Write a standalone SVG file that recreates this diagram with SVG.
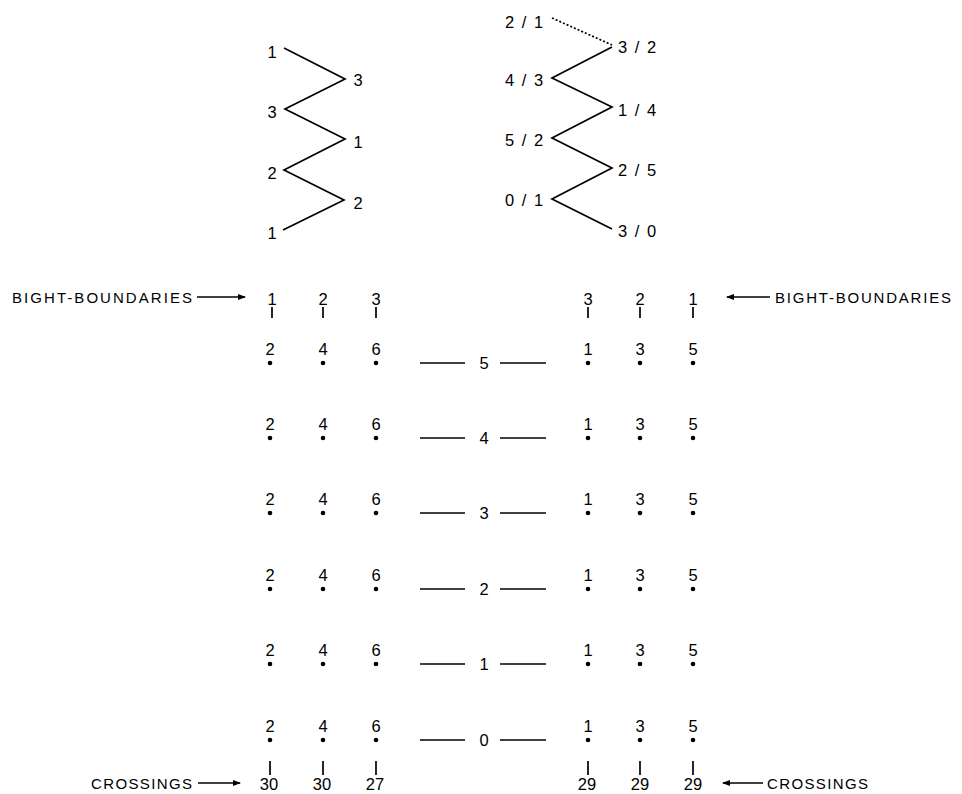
<svg xmlns="http://www.w3.org/2000/svg" width="962" height="794" viewBox="0 0 962 794">
<style>
text{font-family:"Liberation Sans","DejaVu Sans",sans-serif;font-size:16.5px;fill:#000}
.c{text-anchor:middle}
.r{text-anchor:end}
.fr{letter-spacing:1.5px}
.lbl{font-size:15px;letter-spacing:1px}
.ln{stroke:#000;stroke-width:1.7;fill:none}
.dot{fill:#000}
</style>
<defs>
<marker id="ah" markerWidth="8" markerHeight="6" refX="7" refY="3" orient="auto" markerUnits="userSpaceOnUse">
<path d="M0,0 L8,3 L0,6 Z" fill="#000"/>
</marker>
</defs>
<rect width="962" height="794" fill="#fff"/>

<g id="zigzag-left">
<polyline class="ln" points="284,48 345,79 285,109 345,139 284,170 344,200 283,230"/>
<text class="c" x="272" y="58">1</text>
<text class="c" x="272" y="118">3</text>
<text class="c" x="272" y="179">2</text>
<text class="c" x="272" y="239">1</text>
<text class="c" x="358" y="86">3</text>
<text class="c" x="358" y="148">1</text>
<text class="c" x="358" y="209">2</text>
</g>

<g id="zigzag-right">
<line class="ln" x1="552" y1="18" x2="612" y2="45" stroke-dasharray="2,2"/>
<polyline class="ln" points="612,47 552,78 612,107 552,138 612,168 552,199 612,229"/>
<text class="fr" x="505" y="28">2 / 1</text>
<text class="fr" x="505" y="86">4 / 3</text>
<text class="fr" x="505" y="146">5 / 2</text>
<text class="fr" x="505" y="206">0 / 1</text>
<text class="fr" x="618" y="53">3 / 2</text>
<text class="fr" x="618" y="116">1 / 4</text>
<text class="fr" x="618" y="176">2 / 5</text>
<text class="fr" x="618" y="237">3 / 0</text>
</g>

<g id="bight-left">
<text class="lbl" x="12" y="303" textLength="181" lengthAdjust="spacing">BIGHT-BOUNDARIES</text>
<line class="ln" x1="197" y1="297" x2="245" y2="297" marker-end="url(#ah)"/>
<text class="c" x="272" y="305">1</text>
<text class="c" x="323" y="305">2</text>
<text class="c" x="376" y="305">3</text>
<line class="ln" x1="272" y1="307" x2="272" y2="318"/>
<line class="ln" x1="323" y1="307" x2="323" y2="318"/>
<line class="ln" x1="376" y1="307" x2="376" y2="318"/>
</g>

<g id="bight-right">
<text class="c" x="588" y="305">3</text>
<text class="c" x="640" y="305">2</text>
<text class="c" x="693" y="305">1</text>
<line class="ln" x1="588" y1="307" x2="588" y2="318"/>
<line class="ln" x1="640" y1="307" x2="640" y2="318"/>
<line class="ln" x1="693" y1="307" x2="693" y2="318"/>
<line class="ln" x1="770" y1="297" x2="727" y2="297" marker-end="url(#ah)"/>
<text class="lbl" x="775" y="303" textLength="177" lengthAdjust="spacing">BIGHT-BOUNDARIES</text>
</g>

<g id="rows">
<g id="row5">
<text class="c" x="270" y="355">2</text><text class="c" x="323" y="355">4</text><text class="c" x="376" y="355">6</text>
<circle class="dot" cx="270" cy="363" r="2.3"/><circle class="dot" cx="323" cy="363" r="2.3"/><circle class="dot" cx="376" cy="363" r="2.3"/>
<line class="ln" x1="420" y1="363" x2="465" y2="363"/><text class="c" x="484" y="369">5</text><line class="ln" x1="500" y1="363" x2="546" y2="363"/>
<text class="c" x="588" y="355">1</text><text class="c" x="640" y="355">3</text><text class="c" x="693" y="355">5</text>
<circle class="dot" cx="588" cy="363" r="2.3"/><circle class="dot" cx="640" cy="363" r="2.3"/><circle class="dot" cx="693" cy="363" r="2.3"/>
</g>
<g id="row4">
<text class="c" x="270" y="430">2</text><text class="c" x="323" y="430">4</text><text class="c" x="376" y="430">6</text>
<circle class="dot" cx="270" cy="438" r="2.3"/><circle class="dot" cx="323" cy="438" r="2.3"/><circle class="dot" cx="376" cy="438" r="2.3"/>
<line class="ln" x1="420" y1="438" x2="465" y2="438"/><text class="c" x="484" y="444">4</text><line class="ln" x1="500" y1="438" x2="546" y2="438"/>
<text class="c" x="588" y="430">1</text><text class="c" x="640" y="430">3</text><text class="c" x="693" y="430">5</text>
<circle class="dot" cx="588" cy="438" r="2.3"/><circle class="dot" cx="640" cy="438" r="2.3"/><circle class="dot" cx="693" cy="438" r="2.3"/>
</g>
<g id="row3">
<text class="c" x="270" y="505">2</text><text class="c" x="323" y="505">4</text><text class="c" x="376" y="505">6</text>
<circle class="dot" cx="270" cy="513" r="2.3"/><circle class="dot" cx="323" cy="513" r="2.3"/><circle class="dot" cx="376" cy="513" r="2.3"/>
<line class="ln" x1="420" y1="513" x2="465" y2="513"/><text class="c" x="484" y="519">3</text><line class="ln" x1="500" y1="513" x2="546" y2="513"/>
<text class="c" x="588" y="505">1</text><text class="c" x="640" y="505">3</text><text class="c" x="693" y="505">5</text>
<circle class="dot" cx="588" cy="513" r="2.3"/><circle class="dot" cx="640" cy="513" r="2.3"/><circle class="dot" cx="693" cy="513" r="2.3"/>
</g>
<g id="row2">
<text class="c" x="270" y="581">2</text><text class="c" x="323" y="581">4</text><text class="c" x="376" y="581">6</text>
<circle class="dot" cx="270" cy="589" r="2.3"/><circle class="dot" cx="323" cy="589" r="2.3"/><circle class="dot" cx="376" cy="589" r="2.3"/>
<line class="ln" x1="420" y1="589" x2="465" y2="589"/><text class="c" x="484" y="595">2</text><line class="ln" x1="500" y1="589" x2="546" y2="589"/>
<text class="c" x="588" y="581">1</text><text class="c" x="640" y="581">3</text><text class="c" x="693" y="581">5</text>
<circle class="dot" cx="588" cy="589" r="2.3"/><circle class="dot" cx="640" cy="589" r="2.3"/><circle class="dot" cx="693" cy="589" r="2.3"/>
</g>
<g id="row1">
<text class="c" x="270" y="656">2</text><text class="c" x="323" y="656">4</text><text class="c" x="376" y="656">6</text>
<circle class="dot" cx="270" cy="664" r="2.3"/><circle class="dot" cx="323" cy="664" r="2.3"/><circle class="dot" cx="376" cy="664" r="2.3"/>
<line class="ln" x1="420" y1="664" x2="465" y2="664"/><text class="c" x="484" y="670">1</text><line class="ln" x1="500" y1="664" x2="546" y2="664"/>
<text class="c" x="588" y="656">1</text><text class="c" x="640" y="656">3</text><text class="c" x="693" y="656">5</text>
<circle class="dot" cx="588" cy="664" r="2.3"/><circle class="dot" cx="640" cy="664" r="2.3"/><circle class="dot" cx="693" cy="664" r="2.3"/>
</g>
<g id="row0">
<text class="c" x="270" y="732">2</text><text class="c" x="323" y="732">4</text><text class="c" x="376" y="732">6</text>
<circle class="dot" cx="270" cy="740" r="2.3"/><circle class="dot" cx="323" cy="740" r="2.3"/><circle class="dot" cx="376" cy="740" r="2.3"/>
<line class="ln" x1="420" y1="740" x2="465" y2="740"/><text class="c" x="484" y="746">0</text><line class="ln" x1="500" y1="740" x2="546" y2="740"/>
<text class="c" x="588" y="732">1</text><text class="c" x="640" y="732">3</text><text class="c" x="693" y="732">5</text>
<circle class="dot" cx="588" cy="740" r="2.3"/><circle class="dot" cx="640" cy="740" r="2.3"/><circle class="dot" cx="693" cy="740" r="2.3"/>
</g>
</g>

<g id="crossings-left">
<text class="lbl r" x="193" y="789" textLength="102" lengthAdjust="spacing">CROSSINGS</text>
<line class="ln" x1="198" y1="783" x2="240" y2="783" marker-end="url(#ah)"/>
<line class="ln" x1="270" y1="761" x2="270" y2="775"/>
<line class="ln" x1="323" y1="761" x2="323" y2="775"/>
<line class="ln" x1="376" y1="761" x2="376" y2="775"/>
<text class="c" x="269" y="790">30</text>
<text class="c" x="322" y="790">30</text>
<text class="c" x="375" y="790">27</text>
</g>

<g id="crossings-right">
<line class="ln" x1="588" y1="761" x2="588" y2="775"/>
<line class="ln" x1="640" y1="761" x2="640" y2="775"/>
<line class="ln" x1="693" y1="761" x2="693" y2="775"/>
<text class="c" x="587" y="790">29</text>
<text class="c" x="640" y="790">29</text>
<text class="c" x="693" y="790">29</text>
<line class="ln" x1="763" y1="783" x2="723" y2="783" marker-end="url(#ah)"/>
<text class="lbl" x="767" y="789" textLength="102" lengthAdjust="spacing">CROSSINGS</text>
</g>
</svg>
